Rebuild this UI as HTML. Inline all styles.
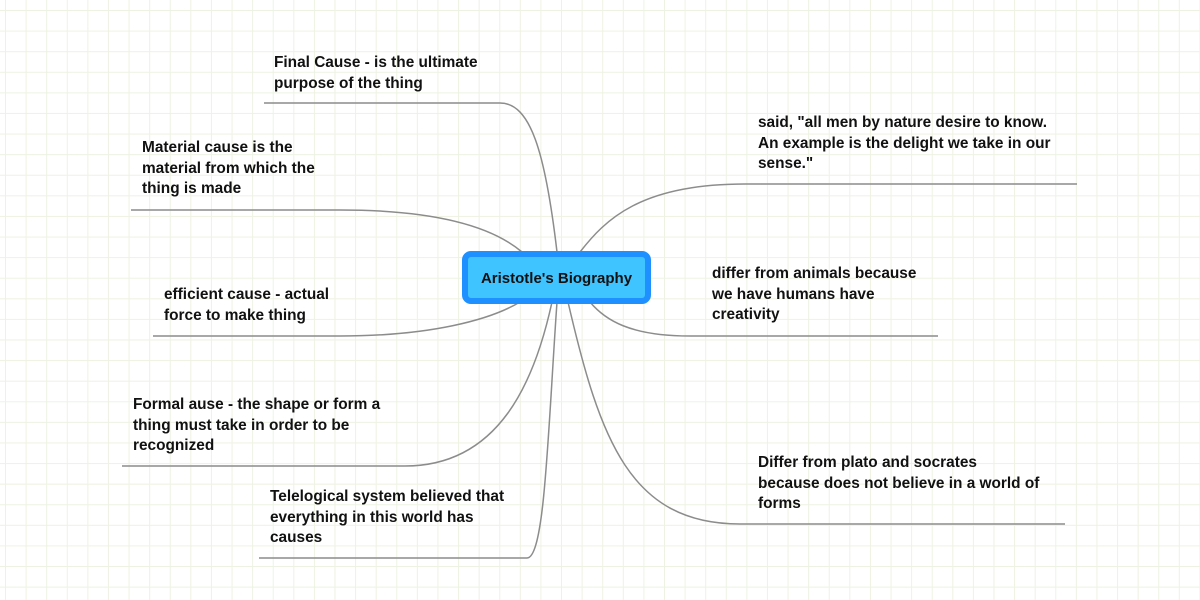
<!DOCTYPE html>
<html><head><style>
body{margin:0;width:1200px;height:600px;overflow:hidden;background:#fff;font-family:"Liberation Sans",sans-serif;}
.bg{position:absolute;left:0;top:0;width:1200px;height:600px;
background-image:linear-gradient(to right,#eef2e2 1px,transparent 1px),linear-gradient(to bottom,#eef2e2 1px,transparent 1px);
background-size:20.6px 20.6px;background-position:5px 10px;}
.t{position:absolute;font-size:15.4px;font-weight:bold;line-height:20.5px;color:#111;}
.c{position:absolute;left:462px;top:251px;width:177px;height:41px;background:#40c4ff;border:6px solid #1e90ff;border-radius:9px;font-weight:bold;font-size:15px;line-height:43px;text-align:center;color:#111;}
</style></head><body>
<div class="bg"></div>
<svg width="1200" height="600" style="position:absolute;left:0;top:0" fill="none" stroke="#8c8c8c" stroke-width="1.5">
<path d="M264 103H500C530 103 545 150 557 252"/>
<path d="M131 210H340C430 210 490 225 522 252"/>
<path d="M153 336H340C430 336 490 320 520 302"/>
<path d="M122 466H405C500 466 535 380 552 302"/>
<path d="M259 558H527C545 558 548 430 557 302"/>
<path d="M1077 184H745C640 184 605 220 580 252"/>
<path d="M938 336H690C630 336 605 320 590 302"/>
<path d="M1065 524H740C630 524 600 440 568 302"/>
</svg>
<div class="t" style="left:274px;top:53px">Final Cause - is the ultimate<br>purpose of the thing</div>
<div class="t" style="left:142px;top:138px">Material cause is the<br>material from which the<br>thing is made</div>
<div class="t" style="left:164px;top:285px">efficient cause - actual<br>force to make thing</div>
<div class="t" style="left:133px;top:395px">Formal ause - the shape or form a<br>thing must take in order to be<br>recognized</div>
<div class="t" style="left:270px;top:487px">Telelogical system believed that<br>everything in this world has<br>causes</div>
<div class="t" style="left:758px;top:113px">said, "all men by nature desire to know.<br>An example is the delight we take in our<br>sense."</div>
<div class="t" style="left:712px;top:264px">differ from animals because<br>we have humans have<br>creativity</div>
<div class="t" style="left:758px;top:453px">Differ from plato and socrates<br>because does not believe in a world of<br>forms</div>
<div class="c">Aristotle's Biography</div>
</body></html>
